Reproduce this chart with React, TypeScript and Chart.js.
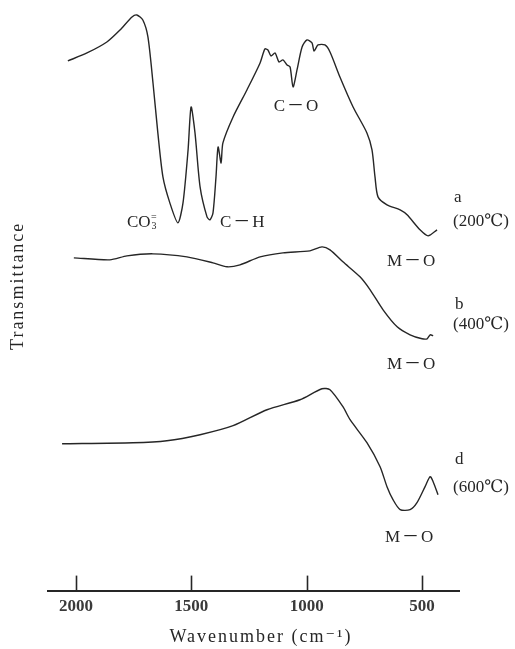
import React, { useEffect, useRef } from "react";
import { Chart, registerables } from "chart.js";

Chart.register(...registerables);

// Spectrum a (200 °C)
const waveA = [2035, 1952, 1866, 1809, 1757, 1736, 1710, 1688, 1666, 1645, 1623, 1593, 1558, 1536, 1514, 1501, 1484, 1462, 1432, 1419, 1406, 1393, 1384, 1371, 1363, 1319, 1259, 1202, 1181, 1168, 1155, 1137, 1120, 1103, 1085, 1072, 1059, 1042, 1020, 999, 977, 968, 951, 921, 899, 856, 799, 739, 717, 704, 691, 652, 595, 565, 509, 474, 435];
const transA = [530, 538, 549, 561, 574, 576, 571, 554, 508, 458, 414, 388, 368, 388, 441, 484, 458, 404, 374, 371, 378, 414, 444, 428, 448, 474, 501, 528, 542, 541, 535, 538, 529, 531, 526, 524, 504, 521, 544, 551, 548, 540, 546, 546, 539, 514, 484, 458, 441, 414, 394, 386, 381, 376, 361, 355, 361];

// Spectrum b (400 °C)
const waveB = [2009, 1853, 1779, 1666, 1519, 1406, 1345, 1289, 1202, 1103, 986, 934, 899, 843, 769, 725, 669, 608, 552, 500, 478, 465, 452];
const transB = [333, 331, 335, 337, 334, 328, 324, 326, 334, 338, 340, 344, 341, 329, 314, 301, 281, 264, 256, 252, 252, 256, 255];

// Spectrum d (600 °C)
const waveD = [2060, 1753, 1606, 1462, 1319, 1172, 1029, 934, 899, 843, 812, 739, 682, 652, 626, 595, 552, 522, 487, 465, 452, 431];
const transD = [147, 148, 150, 156, 165, 181, 191, 202, 201, 184, 171, 148, 124, 104, 91, 81, 81, 88, 104, 114, 109, 96];

const tickValues = [2000, 1500, 1000, 500];
const xTitle = "Wavenumber (cm⁻¹)";
const yTitle = "Transmittance";

// Annotations anchored in data coordinates (wavenumber, transmittance)
const annotations = [
  { text: "C－O", wave: 1042, value: 484, align: "center" },
  { text: "CO", wave: 1779, value: 368, align: "left", sub: "3", sup: "=" },
  { text: "C－H", wave: 1376, value: 368, align: "left" },
  { text: "a", wave: 362, value: 393, align: "left" },
  { text: "(200℃)", wave: 366, value: 369, align: "left" },
  { text: "M－O", wave: 543, value: 329, align: "center" },
  { text: "b", wave: 357, value: 286, align: "left" },
  { text: "(400℃)", wave: 366, value: 266, align: "left" },
  { text: "M－O", wave: 543, value: 226, align: "center" },
  { text: "d", wave: 357, value: 131, align: "left" },
  { text: "(600℃)", wave: 366, value: 103, align: "left" },
  { text: "M－O", wave: 552, value: 53, align: "center" },
];

const FONT = "'Liberation Serif', 'DejaVu Serif', 'Noto Sans CJK JP', serif";
const INK = "#262626";

const toPoints = (w: number[], t: number[]) => w.map((x, i) => ({ x, y: t[i] }));

const annotatePlugin = {
  id: "annotate",
  afterDraw(chart: any) {
    const { ctx, chartArea } = chart;
    const x = chart.scales.x;
    const y = chart.scales.y;
    ctx.save();
    // upward tick marks on the wavenumber axis
    ctx.strokeStyle = INK;
    ctx.lineWidth = 1.6;
    tickValues.forEach((v) => {
      const px = Math.round(x.getPixelForValue(v)) + 0.5;
      ctx.beginPath();
      ctx.moveTo(px, chartArea.bottom);
      ctx.lineTo(px, chartArea.bottom - 15);
      ctx.stroke();
    });
    ctx.fillStyle = INK;
    ctx.textBaseline = "middle";
    // axis titles
    ctx.font = `18px ${FONT}`;
    ctx.textAlign = "center";
    ctx.letterSpacing = "2px";
    ctx.fillText(xTitle, (x.getPixelForValue(2000) + x.getPixelForValue(500)) / 2 + 12, chartArea.bottom + 47);
    ctx.save();
    ctx.translate(chartArea.left - 30, y.getPixelForValue(305));
    ctx.rotate(-Math.PI / 2);
    ctx.fillText(yTitle, 0, 0);
    ctx.restore();
    // peak labels
    annotations.forEach((a: any) => {
      const px = x.getPixelForValue(a.wave);
      const py = y.getPixelForValue(a.value);
      ctx.font = `17px ${FONT}`;
      ctx.letterSpacing = a.text.includes("－") ? "2px" : "0px";
      ctx.textAlign = a.align;
      ctx.fillText(a.text, px, py);
      ctx.letterSpacing = "0px";
      if (a.sub) {
        const w = ctx.measureText(a.text).width;
        ctx.font = `10px ${FONT}`;
        ctx.textAlign = "left";
        ctx.fillText(a.sup, px + w + 0.5, py - 5);
        ctx.fillText(a.sub, px + w + 1, py + 4);
      }
    });
    ctx.restore();
  },
};

export default function App() {
  const ref = useRef<HTMLCanvasElement | null>(null);
  useEffect(() => {
    if (!ref.current) return;
    const lineStyle = {
      borderColor: INK,
      borderWidth: 1.4,
      pointRadius: 0,
      tension: 0.25,
      fill: false,
      clip: false as any,
    };
    const chart = new Chart(ref.current, {
      type: "line",
      data: {
        datasets: [
          { label: "a (200℃)", data: toPoints(waveA, transA), ...lineStyle },
          { label: "b (400℃)", data: toPoints(waveB, transB), ...lineStyle },
          { label: "d (600℃)", data: toPoints(waveD, transD), ...lineStyle },
        ],
      },
      options: {
        responsive: false,
        animation: false,
        devicePixelRatio: 1,
        layout: { padding: { left: 48, right: 56, top: 10, bottom: 26 } },
        plugins: { legend: { display: false }, tooltip: { enabled: false } },
        scales: {
          x: {
            type: "linear",
            reverse: true,
            min: 340,
            max: 2121,
            afterBuildTicks: (s: any) => {
              s.ticks = tickValues.map((v) => ({ value: v }));
            },
            grid: { display: true, drawOnChartArea: false, drawTicks: false },
            border: { display: true, color: INK, width: 2 },
            ticks: {
              font: { family: FONT, size: 17, weight: "bold" },
              color: "#3a3a3a",
              padding: 6,
              maxRotation: 0,
              callback: (v: any) => String(v),
            },
          },
          y: {
            display: false,
            min: 0,
            max: 581,
          },
        },
      },
      plugins: [annotatePlugin],
    } as any);
    return () => chart.destroy();
  }, []);
  return (
    <div style={{ position: "fixed", left: 0, top: 0, width: 515, height: 649, background: "#fff" }}>
      <canvas ref={ref} width={515} height={649} style={{ display: "block" }} />
    </div>
  );
}
